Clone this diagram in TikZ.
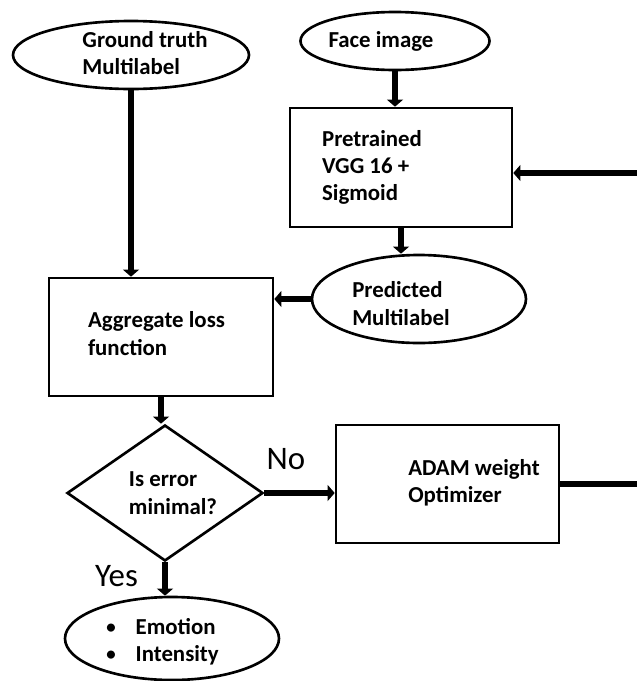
\documentclass[tikz,border=0pt]{standalone}
\usepackage{fontspec}
\setmainfont{Carlito}
\usetikzlibrary{shapes.geometric,arrows.meta}

\begin{document}
\begin{tikzpicture}[
        txt/.style={font=\fontsize{13}{15.6}\selectfont\bfseries, align=left},
        lbl/.style={font=\fontsize{18.7}{22}\selectfont},
        oval/.style={draw, ellipse, line width=1.5pt, inner sep=0pt},
        box/.style={draw, rectangle, line width=1.5pt, inner sep=0pt},
        test/.style={draw, diamond, line width=1.5pt, inner sep=0pt},
        flow/.style={line width=3.5pt, -{Triangle[length=4pt,width=9pt]}}
    ]
            \useasboundingbox (0,0) rectangle (12.74,-13.62);

            \node[oval, minimum width=4.72cm, minimum height=1.36cm, label={[txt, xshift=0.28cm, yshift=0.04cm]center:{Ground truth\\Multilabel}}] (truth) at (2.62,-1.10) {};
            \node[oval, minimum width=3.78cm, minimum height=1.16cm, label={[txt, xshift=-0.28cm]center:{Face image}}] (face) at (7.90,-0.82) {};
            \node[box, minimum width=4.44cm, minimum height=2.38cm, label={[txt, xshift=-0.58cm]center:{Pretrained\\VGG 16 +\\Sigmoid}}] (vgg) at (8.02,-3.35) {};
            \node[oval, minimum width=4.28cm, minimum height=1.76cm, label={[txt, xshift=-0.36cm, yshift=-0.09cm]center:{Predicted\\Multilabel}}] (pred) at (8.38,-5.98) {};
            \node[box, minimum width=4.48cm, minimum height=2.36cm, label={[txt, xshift=-0.09cm, yshift=0.07cm]center:{Aggregate loss\\function}}] (loss) at (3.22,-6.74) {};
            \node[test, minimum width=3.92cm, minimum height=2.72cm, label={[txt, xshift=0.16cm]center:{Is error\\minimal?}}] (check) at (3.30,-9.86) {};
            \node[box, minimum width=4.46cm, minimum height=2.36cm, label={[txt, xshift=0.53cm, yshift=0.03cm]center:{ADAM weight\\Optimizer}}] (adam) at (8.95,-9.68) {};
            \node[oval, minimum width=4.28cm, minimum height=1.66cm, label={[txt, xshift=-0.2cm, yshift=-0.07cm]center:{{\mdseries\textbullet}\hspace{0.38cm}Emotion\\{\mdseries\textbullet}\hspace{0.38cm}Intensity}}] (emotion) at (3.44,-12.77) {};

            \node[lbl] (no) at (5.72,-9.18) {No};
            \node[lbl] (yes) at (2.33,-11.52) {Yes};

            \coordinate (margin) at (12.74,0);

            \draw[flow] (truth.south) -- (truth.south |- loss.north);
            \draw[flow] (face.south) -- (face.south |- vgg.north);
            \draw[flow] (vgg.south) -- (vgg.south |- pred.north);
            \draw[flow] (pred.west) -- (pred.west -| loss.east);
            \draw[flow] (loss.south) -- (loss.south |- check.north);
            \draw[flow] (check.east) -- (check.east -| adam.west);
            \draw[flow] (check.south) -- (check.south |- emotion.north);
            \draw[line width=3.5pt] (adam.east) -- (adam.east -| margin);
            \draw[flow] ([yshift=-0.11cm]vgg.east -| margin) -- ([yshift=-0.11cm]vgg.east);
        \end{tikzpicture}
\end{document}
